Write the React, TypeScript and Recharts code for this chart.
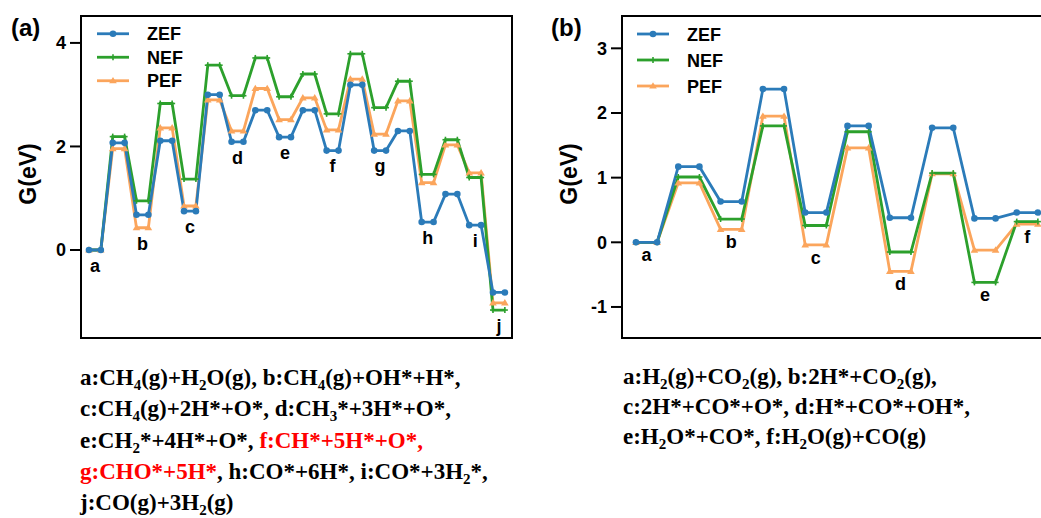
import React from 'react';
import { LineChart, Line, XAxis, YAxis, ReferenceArea, ReferenceDot } from 'recharts';

// panel (a): CH4 + H2O, one value per level (each level drawn as a short flat step)
const levelNamesA = ['a', '', 'b', '', 'c', '', 'd', '', 'e', '', 'f', '', 'g', '', 'h', '', 'i', 'j'];
const zefA = [0, 2.07, 0.68, 2.11, 0.75, 3.0, 2.09, 2.7, 2.18, 2.7, 1.92, 3.19, 1.92, 2.3, 0.54, 1.08, 0.48, -0.82];
const nefA = [0, 2.19, 0.95, 2.83, 1.37, 3.57, 2.98, 3.71, 2.96, 3.4, 2.63, 3.79, 2.75, 3.26, 1.46, 2.13, 1.4, -1.16];
const pefA = [0, 1.96, 0.43, 2.36, 0.85, 2.9, 2.3, 3.12, 2.52, 2.94, 2.32, 3.3, 2.24, 2.88, 1.3, 2.03, 1.49, -1.02];
const ticksA = [0, 2, 4];

// panel (b): H2 + CO2
const levelNamesB = ['a', '', 'b', '', 'c', '', 'd', '', 'e', 'f'];
const zefB = [0, 1.17, 0.63, 2.37, 0.46, 1.8, 0.38, 1.77, 0.37, 0.46];
const nefB = [0, 1.01, 0.36, 1.8, 0.26, 1.71, -0.15, 1.07, -0.62, 0.32];
const pefB = [0, 0.92, 0.2, 1.95, -0.04, 1.46, -0.45, 1.06, -0.12, 0.28];
const ticksB = [-1, 0, 1, 2, 3];

const seriesNames = ['ZEF', 'NEF', 'PEF'];

const COLORS: Record<string, string> = { ZEF: '#2b7bb9', NEF: '#2ca02c', PEF: '#fba55c' };
const AXIS_FONT = 'Liberation Sans, Arial, sans-serif';
const TEXT_FONT = 'Liberation Serif, Times New Roman, serif';

// every level -> two points at consecutive x positions
const buildRows = (zef: number[], nef: number[], pef: number[]) => {
  const rows: any[] = [];
  zef.forEach((_, i) => {
    for (let k = 0; k < 2; k++) {
      rows.push({ x: i * 2 + k, ZEF: zef[i], NEF: nef[i], PEF: pef[i] });
    }
  });
  return rows;
};

const Marker = ({ name, cx, cy }: { name: string; cx: number; cy: number }) => {
  const c = COLORS[name];
  if (cx == null || cy == null) return null;
  if (name === 'ZEF') return <circle cx={cx} cy={cy} r={3.3} fill={c} />;
  if (name === 'NEF')
    return (
      <g stroke={c} strokeWidth={1.6}>
        <line x1={cx - 3} y1={cy} x2={cx + 3} y2={cy} />
        <line x1={cx} y1={cy - 3} x2={cx} y2={cy + 3} />
      </g>
    );
  return <path d={`M${cx},${cy - 3.8} L${cx + 3.8},${cy + 2.6} L${cx - 3.8},${cy + 2.6} Z`} fill={c} />;
};

interface PanelProps {
  names: string[];
  zef: number[];
  nef: number[];
  pef: number[];
  ticks: number[];
  xDomain: [number, number];
  yDomain: [number, number];
  labelOffset: number;
  width: number;
  marginRight: number;
}

const Panel: React.FC<PanelProps> = ({ names, zef, nef, pef, ticks, xDomain, yDomain, labelOffset, width, marginRight }) => {
  const rows = buildRows(zef, nef, pef);
  return (
    <LineChart width={width} height={345} data={rows} margin={{ top: 16, right: marginRight, bottom: 7, left: 0 }}>
      <XAxis type="number" dataKey="x" domain={xDomain} allowDataOverflow hide />
      <YAxis
        type="number"
        domain={yDomain}
        ticks={ticks}
        allowDataOverflow
        width={81}
        axisLine={false}
        tickSize={11}
        tickMargin={4}
        tickLine={{ stroke: '#000', strokeWidth: 2 }}
        tick={{ fill: '#000', fontSize: 18, fontWeight: 700, fontFamily: AXIS_FONT }}
        label={{
          content: ({ viewBox }: any) => (
            <text
              x={viewBox.x + 36}
              y={viewBox.y + viewBox.height / 2 - 3}
              transform={`rotate(-90, ${viewBox.x + 36}, ${viewBox.y + viewBox.height / 2 - 3})`}
              textAnchor="middle"
              fontSize={23}
              fontWeight={700}
              fontFamily={AXIS_FONT}
              fill="#000"
            >
              G(eV)
            </text>
          ),
        }}
      />
      <ReferenceArea
        x1={xDomain[0]}
        x2={xDomain[1]}
        y1={yDomain[0]}
        y2={yDomain[1]}
        fill="none"
        fillOpacity={0}
        stroke="#000"
        strokeWidth={2}
      />
      {['PEF', 'NEF', 'ZEF'].map((s) => (
        <Line
          key={s}
          dataKey={s}
          type="linear"
          stroke={COLORS[s]}
          strokeWidth={2.8}
          dot={(p: any) => <Marker key={`${s}-${p.index}`} name={s} cx={p.cx} cy={p.cy} />}
          activeDot={false}
          isAnimationActive={false}
        />
      ))}
      {names.map((n, i) =>
        n ? (
          <ReferenceDot
            key={`lbl-${n}`}
            x={i * 2 + 0.5}
            y={Math.min(zef[i], nef[i], pef[i])}
            r={0}
            fill="none"
            stroke="none"
            label={{
              value: n,
              position: 'bottom',
              offset: labelOffset,
              fill: '#000',
              fontSize: 18,
              fontWeight: 700,
              fontFamily: AXIS_FONT,
            }}
          />
        ) : null
      )}
    </LineChart>
  );
};

const LegendBox = ({ left, top, gap }: { left: number; top: number; gap: number }) => (
  <svg style={{ position: 'absolute', left, top }} width={110} height={gap * 3}>
    {seriesNames.map((s, i) => {
      const y = gap / 2 + i * gap;
      return (
        <g key={s}>
          <line x1={2} y1={y} x2={34} y2={y} stroke={COLORS[s]} strokeWidth={2.8} />
          <Marker name={s} cx={18} cy={y} />
          <text x={52} y={y + 6.5} fontSize={18} fontWeight={700} fontFamily={AXIS_FONT} fill="#000">
            {s}
          </text>
        </g>
      );
    })}
  </svg>
);

const sub = (t: string) => <sub style={{ fontSize: 15, verticalAlign: -5, lineHeight: 0 }}>{t}</sub>;
const red = { color: '#ff0000' };

const textStyle: React.CSSProperties = {
  position: 'absolute',
  fontFamily: TEXT_FONT,
  fontWeight: 700,
  fontSize: 23,
  lineHeight: '31.3px',
  color: '#000',
  whiteSpace: 'nowrap',
};

const panelLabel: React.CSSProperties = {
  position: 'absolute',
  fontFamily: AXIS_FONT,
  fontWeight: 700,
  fontSize: 24,
  lineHeight: '24px',
  color: '#000',
};

export default function App() {
  return (
    <div style={{ position: 'fixed', left: 0, top: 0, width: 1041, height: 518, overflow: 'hidden', background: '#fff' }}>
      <div style={{ position: 'absolute', left: 0, top: 0 }}>
        <Panel
          names={levelNamesA}
          zef={zefA}
          nef={nefA}
          pef={pefA}
          ticks={ticksA}
          xDomain={[-0.67, 35.6]}
          yDomain={[-1.7, 4.52]}
          labelOffset={9}
          width={530}
          marginRight={18}
        />
      </div>
      <div style={{ position: 'absolute', left: 541, top: 0 }}>
        <Panel
          names={levelNamesB}
          zef={zefB}
          nef={nefB}
          pef={pefB}
          ticks={ticksB}
          xDomain={[-0.66, 19.62]}
          yDomain={[-1.48, 3.5]}
          labelOffset={6}
          width={530}
          marginRight={20}
        />
      </div>
      <LegendBox left={95} top={22} gap={23.5} />
      <LegendBox left={635} top={21} gap={26} />
      <div style={{ ...panelLabel, left: 11, top: 16 }}>(a)</div>
      <div style={{ ...panelLabel, left: 551, top: 16 }}>(b)</div>
      <div style={{ ...textStyle, left: 80, top: 362 }}>
        <div>a:CH{sub('4')}(g)+H{sub('2')}O(g), b:CH{sub('4')}(g)+OH*+H*,</div>
        <div>c:CH{sub('4')}(g)+2H*+O*, d:CH{sub('3')}*+3H*+O*,</div>
        <div>
          e:CH{sub('2')}*+4H*+O*, <span style={red}>f:CH*+5H*+O*,</span>
        </div>
        <div>
          <span style={red}>g:CHO*+5H*</span>, h:CO*+6H*, i:CO*+3H{sub('2')}*,
        </div>
        <div>j:CO(g)+3H{sub('2')}(g)</div>
      </div>
      <div style={{ ...textStyle, left: 623, top: 362, lineHeight: '30px' }}>
        <div>a:H{sub('2')}(g)+CO{sub('2')}(g), b:2H*+CO{sub('2')}(g),</div>
        <div>c:2H*+CO*+O*, d:H*+CO*+OH*,</div>
        <div>e:H{sub('2')}O*+CO*, f:H{sub('2')}O(g)+CO(g)</div>
      </div>
    </div>
  );
}
